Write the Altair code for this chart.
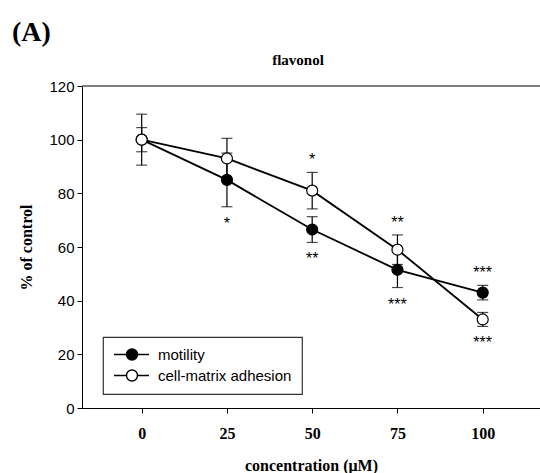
import altair as alt
import pandas as pd

# ---- data ----
conc = [0, 25, 50, 75, 100]
motility_mean = [100, 85, 66.5, 51.5, 43]
motility_err = [4.5, 10, 4.8, 6.6, 2.7]
motility_sig = ["", "*", "**", "***", "***"]
motility_sig_pos = ["", "below", "below", "below", "above"]

adhesion_mean = [100, 93, 81, 59, 33]
adhesion_err = [9.5, 7.5, 6.8, 5.5, 2.6]
adhesion_sig = ["", "", "*", "**", "***"]
adhesion_sig_pos = ["", "", "above", "above", "below"]

series_names = ["motility", "cell-matrix adhesion"]
series_fill = ["black", "white"]
x_ticks = [0, 25, 50, 75, 100]
x_domain = [-17.5, 116.8]
y_domain = [0, 120]
y_ticks = [0, 20, 40, 60, 80, 100, 120]
panel_label = ["(A)"]
chart_title = ["flavonol"]
x_title = "concentration (\u03bcM)"
y_title = "% of control"

rows = []
for name, means, errs, sig, pos in [
    (series_names[0], motility_mean, motility_err, motility_sig, motility_sig_pos),
    (series_names[1], adhesion_mean, adhesion_err, adhesion_sig, adhesion_sig_pos),
]:
    for c, m, e, s, p in zip(conc, means, errs, sig, pos):
        rows.append({"conc": c, "mean": m, "err": e, "series": name, "sig": s, "pos": p})
df = pd.DataFrame(rows)

W, H = 458, 322
SERIF = "Liberation Serif"
SANS = "Liberation Sans"

xs = alt.Scale(domain=x_domain, nice=False, zero=False)
ys = alt.Scale(domain=y_domain, nice=False)

X = alt.X("conc:Q", scale=xs, axis=alt.Axis(
    values=x_ticks, title=x_title, grid=False, tickSize=5, labelPadding=12,
    labelFont=SERIF, labelFontWeight="bold", labelFontSize=16, labelColor="black",
    titleFont=SERIF, titleFontWeight="bold", titleFontSize=16, titleColor="black",
    titlePadding=16, domainColor="black", tickColor="black"))
Y = alt.Y("mean:Q", scale=ys, axis=alt.Axis(
    values=y_ticks, title=y_title, grid=False, tickSize=5, labelPadding=3,
    labelFont=SANS, labelFontSize=15, labelColor="black",
    titleFont=SERIF, titleFontWeight="bold", titleFontSize=16, titleColor="black",
    titlePadding=14, domainColor="black", tickColor="black"))

base = alt.Chart(df).transform_calculate(
    lo="datum.mean - datum.err", hi="datum.mean + datum.err")

# legend symbol: line with a circle, drawn as one path
k = 0.5523
cx = 2.09
circle = (f"M{cx+1},0C{cx+1},{k} {cx+k},1 {cx},1C{cx-k},1 {cx-1},{k} {cx-1},0"
          f"C{cx-1},{-k} {cx-k},-1 {cx},-1C{cx+k},-1 {cx+1},{-k} {cx+1},0Z")
legend_path = f"M-1.18,0L{cx-1},0M{cx+1},0L5.18,0" + circle

top_border = alt.Chart(pd.DataFrame({"y": [y_domain[1]]})).mark_rule(
    color="#555555", strokeWidth=1.5).encode(y=alt.Y("y:Q", scale=ys))

lines = base.mark_line(color="black", strokeWidth=1.8).encode(
    x=X, y=Y, detail="series:N", order="conc:Q")

err_rule = base.mark_rule(color="black", strokeWidth=1.2).encode(
    x=alt.X("conc:Q", scale=xs), y=alt.Y("lo:Q", scale=ys), y2="hi:Q")
cap_lo = base.mark_tick(orient="horizontal", size=11, thickness=1.2, color="black").encode(
    x=alt.X("conc:Q", scale=xs), y=alt.Y("lo:Q", scale=ys))
cap_hi = base.mark_tick(orient="horizontal", size=11, thickness=1.2, color="black").encode(
    x=alt.X("conc:Q", scale=xs), y=alt.Y("hi:Q", scale=ys))

points = base.mark_point(shape="circle", filled=True, size=121, stroke="black",
                         strokeWidth=1.2, opacity=1).encode(
    x=alt.X("conc:Q", scale=xs), y=alt.Y("mean:Q", scale=ys),
    fill=alt.Fill("series:N", sort=series_names,
                  scale=alt.Scale(domain=series_names, range=series_fill),
                  legend=alt.Legend(
                      title=None, orient="none", legendX=21, legendY=251,
                      symbolType=legend_path, symbolSize=121,
                      symbolStrokeColor="black", symbolStrokeWidth=1.4,
                      symbolOpacity=1,
                      labelFont=SANS, labelFontSize=15, labelColor="black",
                      labelOffset=30, rowPadding=4, padding=10,
                      strokeColor="#333333")))

stars_below = base.transform_filter("datum.pos == 'below'").mark_text(
    font=SANS, fontSize=16, color="black", baseline="middle", dy=17).encode(
    x=alt.X("conc:Q", scale=xs), y=alt.Y("lo:Q", scale=ys), text="sig:N")
stars_above = base.transform_filter("datum.pos == 'above'").mark_text(
    font=SANS, fontSize=16, color="black", baseline="middle", dy=-12).encode(
    x=alt.X("conc:Q", scale=xs), y=alt.Y("hi:Q", scale=ys), text="sig:N")

label = alt.Chart(pd.DataFrame({"label": panel_label})).mark_text(
    font=SERIF, fontWeight="bold", fontSize=28, align="left",
    baseline="alphabetic", color="black").encode(
    x=alt.value(-70), y=alt.value(-45), text="label:N")

title = alt.Chart(pd.DataFrame({"label": chart_title})).mark_text(
    font=SERIF, fontWeight="bold", fontSize=15, align="center",
    baseline="alphabetic", color="black").encode(
    x=alt.value(216), y=alt.value(-21), text="label:N")

chart = alt.layer(top_border, lines, err_rule, cap_lo, cap_hi, points,
                  stars_below, stars_above, label, title).properties(
    width=W, height=H,
    autosize=alt.AutoSizeParams(type="none"),
    padding={"left": 82, "top": 86, "right": 0, "bottom": 65},
).configure_view(stroke="transparent").configure_legend(strokeWidth=1.2)

chart.save("out.html", embed_options={"renderer": "svg", "actions": False})
